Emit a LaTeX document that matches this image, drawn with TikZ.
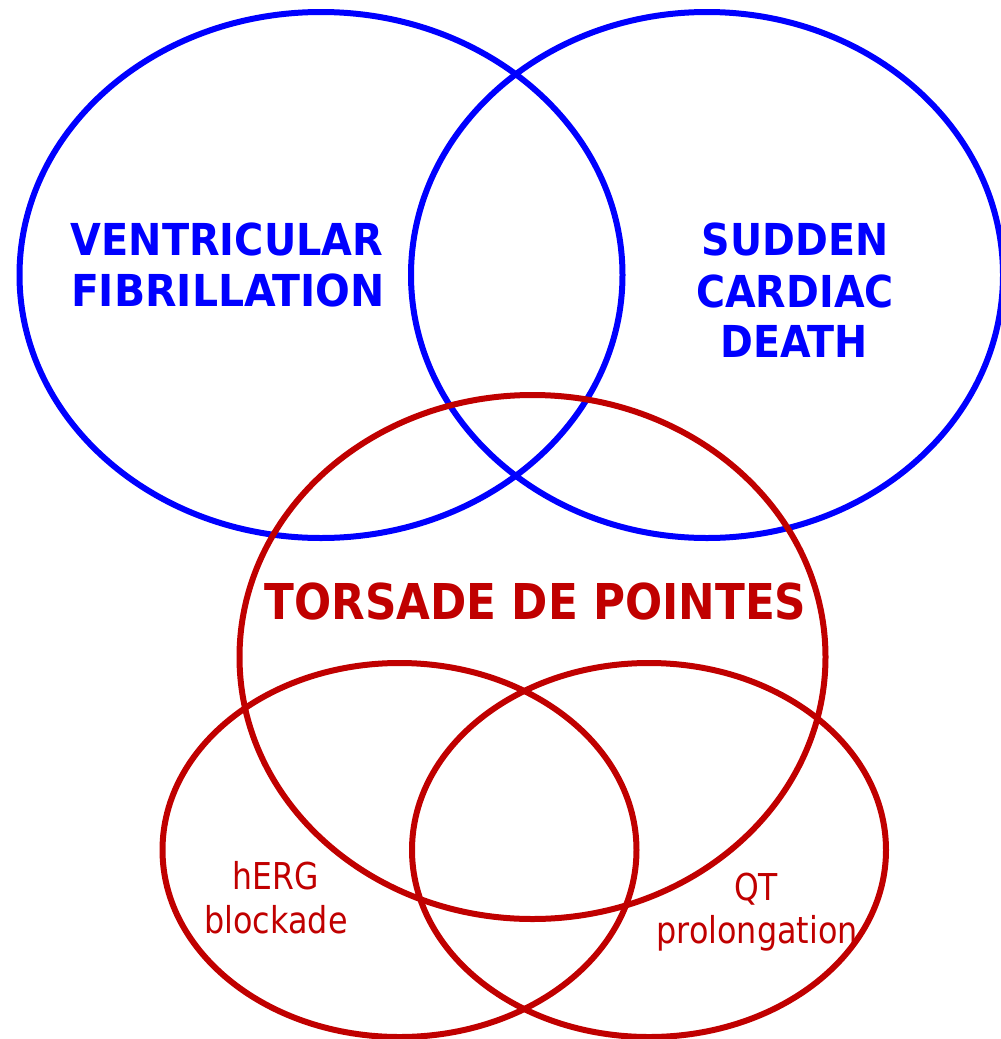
\documentclass[tikz,border=0pt]{standalone}
\usepackage{fontspec}
\setmainfont{DejaVu Sans}
\definecolor{vblue}{HTML}{0000FF}
\definecolor{vred}{HTML}{C00000}
\tikzset{
  ring/.style={line width=6pt},
  bluering/.style={ring, draw=vblue},
  redring/.style={ring, draw=vred},
  bigblue/.style={text=vblue, font=\fontsize{44}{51}\selectfont\bfseries, inner sep=0pt, anchor=base},
  bigred/.style={text=vred, font=\fontsize{49.4}{56}\selectfont\bfseries, inner sep=0pt, anchor=base},
  smallred/.style={text=vred, font=\fontsize{37}{43}\selectfont, inner sep=0pt, anchor=base}
}
\begin{document}
\begin{tikzpicture}[x=1pt,y=-1pt]
\useasboundingbox (0,0) rectangle (1001,1039);
\draw[bluering] (321,275) ellipse [x radius=301.5, y radius=263];
\draw[bluering] (707,275) ellipse [x radius=296, y radius=263];
\draw[redring] (532.5,657) ellipse [x radius=293, y radius=262];
\draw[redring] (399.5,850) ellipse [x radius=237, y radius=187];
\draw[redring] (649,850) ellipse [x radius=237, y radius=187];

\node[bigblue] (vf1) at (227,255) {\scalebox{0.905}[1]{VENTRICULAR}};
\node[bigblue] (vf2) at (228,306) {\scalebox{0.93}[1]{FIBRILLATION}};

\node[bigblue] (scd1) at (795,255) {\scalebox{0.9}[1]{SUDDEN}};
\node[bigblue] (scd2) at (795,307) {\scalebox{0.9}[1]{CARDIAC}};
\node[bigblue] (scd3) at (794,357) {\scalebox{0.9}[1]{DEATH}};

\node[bigred] (tdp) at (535.5,619) {\scalebox{0.885}[1]{TORSADE DE POINTES}};

\node[smallred] (h1) at (276,889) {\scalebox{0.85}[1]{hERG}};
\node[smallred] (h2) at (276,933) {\scalebox{0.86}[1]{blockade}};

\node[smallred] (q1) at (756,900) {\scalebox{0.85}[1]{QT}};
\node[smallred] (q2) at (757,943) {\scalebox{0.86}[1]{prolongation}};
\end{tikzpicture}
\end{document}
